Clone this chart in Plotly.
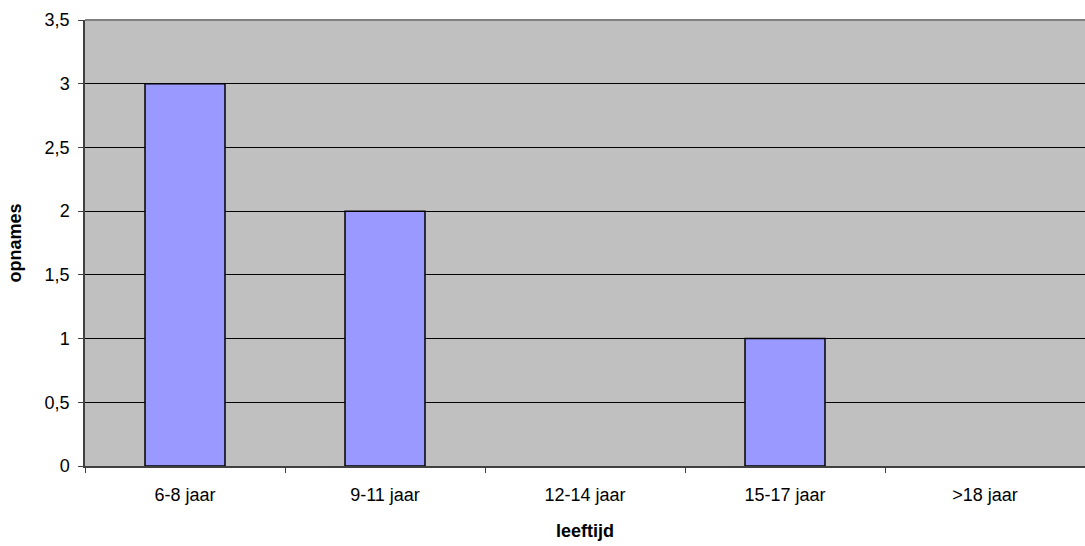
import plotly.graph_objects as go

categories = ["6-8 jaar", "9-11 jaar", "12-14 jaar", "15-17 jaar", ">18 jaar"]
values = [3, 2, 0, 1, 0]
y_ticks = [0, 0.5, 1, 1.5, 2, 2.5, 3, 3.5]

fig = go.Figure()
fig.add_trace(go.Bar(
    x=categories, y=[v if v else None for v in values], width=0.4,
    marker=dict(color="#9999FF", line=dict(color="#000000", width=1.5)),
))

font = "Liberation Sans, Arial, sans-serif"
fig.update_layout(
    width=1085, height=546,
    margin=dict(l=85, r=0, t=20, b=80),
    paper_bgcolor="white", plot_bgcolor="#C0C0C0",
    separators=",.",
    showlegend=False,
    font=dict(family=font, size=18, color="black"),
    xaxis=dict(
        title=dict(text="<b>leeftijd</b>", font=dict(size=18), standoff=20),
        showgrid=False, showline=True, linecolor="#404040", linewidth=1.5,
        ticks="outside", tickson="boundaries", ticklen=5, tickcolor="#404040",
        tickfont=dict(size=18), ticklabelstandoff=12, range=[-0.5, 4.5],
        automargin=False,
    ),
    yaxis=dict(
        title=dict(text="<b>opnames</b>", font=dict(size=18), standoff=18),
        range=[0, 3.5], tickvals=y_ticks,
        showgrid=True, gridcolor="#000000", gridwidth=1,
        showline=True, linecolor="#404040", linewidth=1.5,
        ticks="outside", ticklen=5, tickcolor="#404040",
        tickfont=dict(size=18), ticklabelstandoff=5, zeroline=False,
        automargin=False,
    ),
    shapes=[dict(type="line", xref="paper", yref="paper", x0=0, x1=1, y0=1, y1=1,
                 line=dict(color="#808080", width=2), layer="above")],
)

fig.write_html("out.html", config={"displayModeBar": False},
               post_script="document.body.style.margin='0';document.body.style.padding='0';")
